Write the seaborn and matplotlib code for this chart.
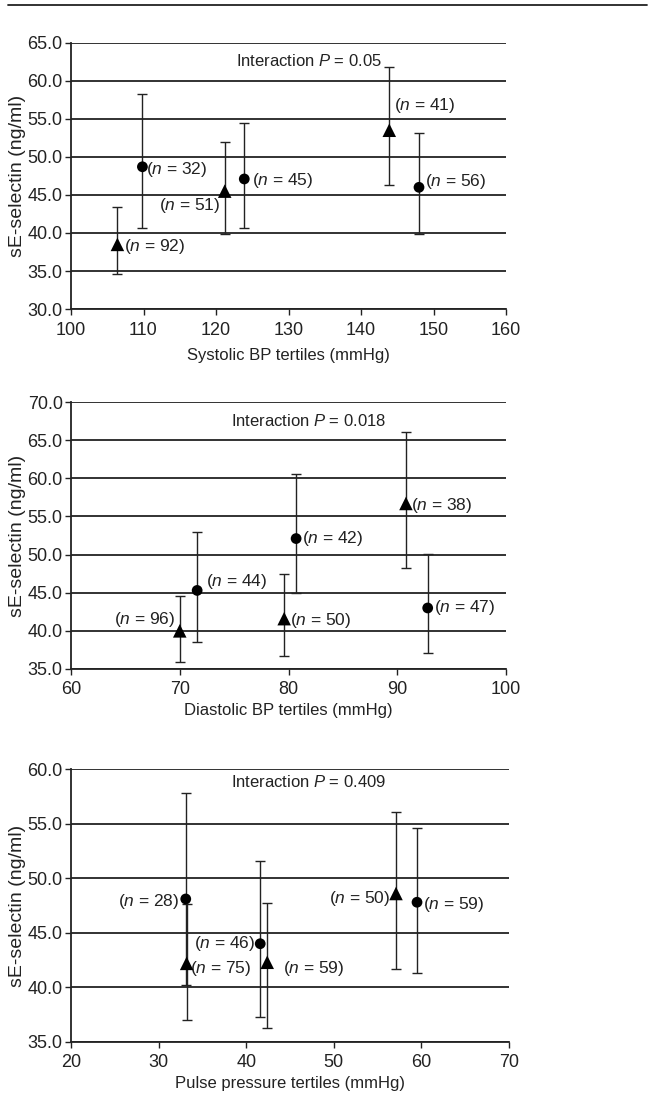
import numpy as np
import pandas as pd
import matplotlib
matplotlib.use("Agg")
import matplotlib.pyplot as plt
from matplotlib.lines import Line2D
import seaborn as sns

# --------------------------
# DATA
# --------------------------
# triangles = group A, circles = group B
sys_x_a = [106.4, 121.2, 143.9]
sys_y_a = [38.5, 45.5, 53.5]
sys_lo_a = [34.6, 39.9, 46.3]
sys_hi_a = [43.35, 52.0, 61.85]
sys_n_a = [92, 51, 41]
sys_x_b = [109.85, 123.9, 148.0]
sys_y_b = [48.7, 47.1, 46.0]
sys_lo_b = [40.7, 40.6, 39.9]
sys_hi_b = [58.3, 54.5, 53.1]
sys_n_b = [32, 45, 56]

dia_x_a = [70.0, 79.6, 90.8]
dia_y_a = [40.0, 41.6, 56.7]
dia_lo_a = [35.9, 36.7, 48.2]
dia_hi_a = [44.6, 47.4, 66.1]
dia_n_a = [96, 50, 38]
dia_x_b = [71.6, 80.7, 92.8]
dia_y_b = [45.3, 52.1, 43.0]
dia_lo_b = [38.5, 44.9, 37.1]
dia_hi_b = [53.0, 60.5, 50.1]
dia_n_b = [44, 42, 47]

pp_x_a = [33.2, 42.4, 57.1]
pp_y_a = [42.2, 42.3, 48.6]
pp_lo_a = [37.0, 36.3, 41.7]
pp_hi_a = [47.6, 47.7, 56.1]
pp_n_a = [75, 59, 50]
pp_x_b = [33.1, 41.6, 59.5]
pp_y_b = [48.1, 44.0, 47.8]
pp_lo_b = [40.2, 37.3, 41.3]
pp_hi_b = [57.8, 51.6, 54.6]
pp_n_b = [28, 46, 59]

x_labels = ["Systolic BP tertiles (mmHg)", "Diastolic BP tertiles (mmHg)",
            "Pulse pressure tertiles (mmHg)"]
p_labels = ["0.05", "0.018", "0.409"]
x_ticks = [np.arange(100, 161, 10), np.arange(60, 101, 10), np.arange(20, 71, 10)]
y_ticks = [np.arange(30, 65.1, 5), np.arange(35, 70.1, 5), np.arange(35, 60.1, 5)]


def make_df(xa, ya, loa, hia, na, xb, yb, lob, hib, nb):
    a = pd.DataFrame({"x": xa, "y": ya, "lo": loa, "hi": hia, "n": na, "group": "A"})
    b = pd.DataFrame({"x": xb, "y": yb, "lo": lob, "hi": hib, "n": nb, "group": "B"})
    return pd.concat([a, b], ignore_index=True)


panels = [
    make_df(sys_x_a, sys_y_a, sys_lo_a, sys_hi_a, sys_n_a,
            sys_x_b, sys_y_b, sys_lo_b, sys_hi_b, sys_n_b),
    make_df(dia_x_a, dia_y_a, dia_lo_a, dia_hi_a, dia_n_a,
            dia_x_b, dia_y_b, dia_lo_b, dia_hi_b, dia_n_b),
    make_df(pp_x_a, pp_y_a, pp_lo_a, pp_hi_a, pp_n_a,
            pp_x_b, pp_y_b, pp_lo_b, pp_hi_b, pp_n_b),
]

# label placement (pixel offsets, alignment), A rows then B rows
label_pos = [
    [(7, -2, "left"), (-4, -14, "right"), (5, 25, "left"),
     (4, -3, "left"), (8, -2, "left"), (6, 6, "left")],
    [(-4, 11, "right"), (6, -2, "left"), (5, -2, "left"),
     (9, 9, "left"), (6, 0, "left"), (6, 0, "left")],
    [(3, -5, "left"), (16, -6, "left"), (-6, -5, "right"),
     (-6, -3, "right"), (-5, 0, "right"), (6, -2, "left")],
]

# --------------------------
# STYLE
# --------------------------
sns.set_style("ticks")
plt.rcParams["font.family"] = ["Liberation Sans", "DejaVu Sans"]
plt.rcParams["mathtext.fontset"] = "custom"
plt.rcParams["mathtext.rm"] = "Liberation Sans"
plt.rcParams["mathtext.it"] = "Liberation Sans:italic"
ink = "#222222"

fig = plt.figure(figsize=(6.5, 10.96), dpi=100)
rects = [
    [71 / 650, 0.718, 435 / 650, 0.243],
    [71 / 650, 0.3896, 435 / 650, 0.2436],
    [71 / 650, 0.0493, 438 / 650, 0.249],
]
text_y = [0.932, 0.929, 0.954]
text_x = [0.547, 0.547, 0.543]
labelpads = [7, 3, 3]

fig.add_artist(Line2D([8 / 650, 647 / 650], [1 - 5 / 1096] * 2, color=ink, lw=1.3))

for i, df in enumerate(panels):
    ax = fig.add_axes(rects[i])
    ax.errorbar(df["x"], df["y"], yerr=[df["y"] - df["lo"], df["hi"] - df["y"]],
                fmt="none", ecolor=ink, elinewidth=1, capsize=3.5, capthick=1, zorder=3)
    sns.scatterplot(data=df[df["group"] == "A"], x="x", y="y", marker="^", s=95,
                    color="black", edgecolor="none", ax=ax, zorder=4, legend=False)
    sns.scatterplot(data=df[df["group"] == "B"], x="x", y="y", marker="o", s=60,
                    color="black", edgecolor="none", ax=ax, zorder=4, legend=False)

    for j, row in df.iterrows():
        dx, dy, ha = label_pos[i][j]
        ax.annotate(f"($n$ = {row['n']})", (row["x"], row["y"]), xytext=(dx, dy),
                    textcoords="offset pixels", ha=ha, va="center", fontsize=12.5, color=ink)

    ax.text(text_x[i], text_y[i], f"Interaction $P$ = {p_labels[i]}", transform=ax.transAxes,
            ha="center", va="center", fontsize=12, color=ink)

    ax.set_xlim(x_ticks[i][0], x_ticks[i][-1])
    ax.set_ylim(y_ticks[i][0], y_ticks[i][-1])
    ax.set_xticks(x_ticks[i])
    ax.set_yticks(y_ticks[i])
    ax.set_yticklabels([f"{v:.1f}" for v in y_ticks[i]])
    ax.yaxis.grid(True, color=ink, lw=1.3)
    ax.set_axisbelow(True)
    ax.tick_params(axis="x", labelsize=13, colors=ink, length=4, width=1, pad=5)
    ax.tick_params(axis="y", labelsize=13, colors=ink, length=4, width=1, pad=2)
    for side in ["top", "right"]:
        ax.spines[side].set_visible(False)
    for side in ["left", "bottom"]:
        ax.spines[side].set_color(ink)
        ax.spines[side].set_linewidth(1.3)
    ax.set_xlabel(x_labels[i], fontsize=12, color=ink, labelpad=labelpads[i])
    ax.set_ylabel("sE-selectin (ng/ml)", fontsize=14, color=ink, labelpad=1)

fig.savefig("out.png", dpi=100)
